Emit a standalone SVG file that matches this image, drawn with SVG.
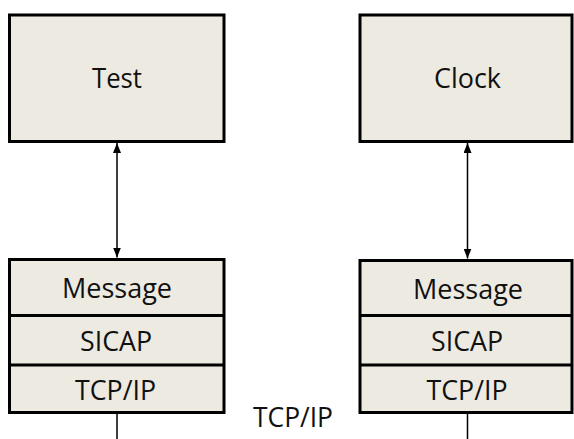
<svg xmlns="http://www.w3.org/2000/svg" width="574" height="439" viewBox="0 0 574 439">
  <defs>
    <style>
      .box { fill: #edeae1; stroke: #000; stroke-width: 3; }
      .div { stroke: #000; stroke-width: 3; }
      .wire { stroke: #000; stroke-width: 1.5; fill: none; }
      .lbl { font-family: "Open Sans", "Liberation Sans", sans-serif; font-size: 27px; fill: #111; text-anchor: middle; }
    </style>
    <marker id="tip" viewBox="0 0 10 8" refX="10" refY="4" markerWidth="10" markerHeight="8" orient="auto-start-reverse" markerUnits="userSpaceOnUse">
      <path d="M0,0 L10,4 L0,8 z" fill="#000"/>
    </marker>
  </defs>
  <rect width="574" height="439" fill="#fff"/>

  <!-- application nodes -->
  <g id="test">
    <rect class="box" x="9.5" y="15" width="214.5" height="126.5"/>
    <text class="lbl" x="117" y="88" textLength="50" lengthAdjust="spacingAndGlyphs">Test</text>
  </g>
  <g id="clock">
    <rect class="box" x="360" y="15" width="212" height="126.5"/>
    <text class="lbl" x="467.5" y="88" textLength="67" lengthAdjust="spacingAndGlyphs">Clock</text>
  </g>

  <!-- protocol stacks -->
  <g id="stack-left">
    <rect class="box" x="9.5" y="259.5" width="214.5" height="153"/>
    <line class="div" x1="9.5" y1="315.5" x2="224" y2="315.5"/>
    <line class="div" x1="9.5" y1="365" x2="224" y2="365"/>
    <text class="lbl" x="117" y="298" textLength="110" lengthAdjust="spacingAndGlyphs">Message</text>
    <text class="lbl" x="116" y="351" textLength="72" lengthAdjust="spacingAndGlyphs">SICAP</text>
    <text class="lbl" x="115.5" y="400" textLength="81" lengthAdjust="spacingAndGlyphs">TCP/IP</text>
  </g>
  <g id="stack-right">
    <rect class="box" x="360" y="260.5" width="212" height="152"/>
    <line class="div" x1="360" y1="315.5" x2="572" y2="315.5"/>
    <line class="div" x1="360" y1="365" x2="572" y2="365"/>
    <text class="lbl" x="468" y="298.5" textLength="110" lengthAdjust="spacingAndGlyphs">Message</text>
    <text class="lbl" x="467" y="351" textLength="72" lengthAdjust="spacingAndGlyphs">SICAP</text>
    <text class="lbl" x="467" y="400" textLength="81" lengthAdjust="spacingAndGlyphs">TCP/IP</text>
  </g>

  <!-- network label -->
  <g id="network">
    <text class="lbl" x="293" y="427" textLength="80" lengthAdjust="spacingAndGlyphs">TCP/IP</text>
  </g>

  <!-- connectors -->
  <g id="connectors">
    <line class="wire" x1="117" y1="143" x2="117" y2="257.5" marker-start="url(#tip)" marker-end="url(#tip)"/>
    <line class="wire" x1="467.5" y1="143" x2="467.5" y2="258.5" marker-start="url(#tip)" marker-end="url(#tip)"/>
    <line class="wire" x1="117" y1="414" x2="117" y2="439"/>
    <line class="wire" x1="467.5" y1="414" x2="467.5" y2="439"/>
  </g>
</svg>
